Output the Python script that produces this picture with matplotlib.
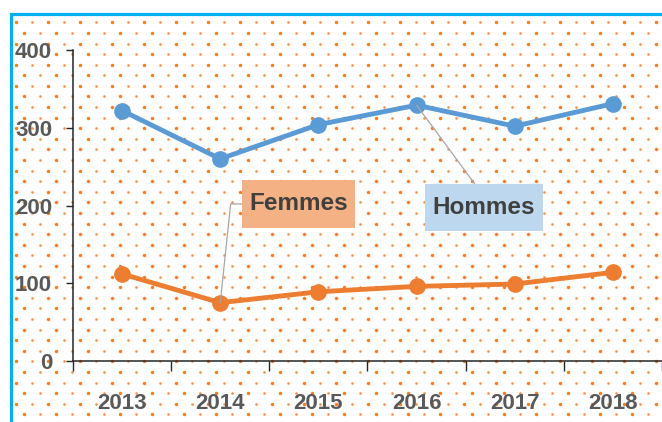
import numpy as np
import matplotlib
matplotlib.use('Agg')
import matplotlib.pyplot as plt
from matplotlib.lines import Line2D
from matplotlib.path import Path

annees = ['2013', '2014', '2015', '2016', '2017', '2018']
hommes = [322, 260, 304, 329, 302, 331]
femmes = [112, 75, 89, 96, 99, 114]
yticks = [0, 100, 200, 300, 400]

W, H = 662, 422
police = ['Liberation Sans', 'DejaVu Sans']
gris = '#595959'


def boite(padx, pady):
    # rectangle avec marges horizontale et verticale differentes
    def f(x0, y0, width, height, mutation_size):
        px, py = padx * mutation_size, pady * mutation_size
        x1, y1 = x0 + width + px, y0 + height + py
        x0, y0 = x0 - px, y0 - py
        return Path([(x0, y0), (x1, y0), (x1, y1), (x0, y1), (x0, y0)], closed=True)
    return f


fig = plt.figure(figsize=(W / 100, H / 100), dpi=100)

# fond : cadre bleu + motif de points orange
bg = fig.add_axes([0, 0, 1, 1], zorder=0)
bg.set_xlim(0, W)
bg.set_ylim(H, 0)
bg.axis('off')
for k, y in enumerate(np.arange(22.3, H, 10.6)):
    x0 = 0 if k % 2 == 0 else 8
    xs = np.arange(x0, W, 16.0)
    xs = xs[xs > 13]
    big = (np.round((xs - x0) / 16) % 2 == 1)
    bg.scatter(xs[big], np.full(big.sum(), y), s=6, color='#ED7D31', lw=0)
    bg.scatter(xs[~big], np.full((~big).sum(), y), s=3.5, color='#F0904A', lw=0)
bg.add_line(Line2D([10.5, 10.5, W], [H, 13.5, 13.5], color='#00B0F0', lw=2.3,
                   solid_joinstyle='miter'))

ax = fig.add_axes([73 / W, 1 - 361 / H, 1 - 73 / W, (361 - 50) / H], zorder=1)
ax.patch.set_alpha(0)
x = np.arange(len(annees))
ax.plot(x, hommes, color='#5B9BD5', lw=3.5, marker='o', ms=11, zorder=3)
ax.plot(x, femmes, color='#ED7D31', lw=3.5, marker='o', ms=11, zorder=3)

ax.set_xlim(-0.5, len(annees) - 0.5)
ax.set_ylim(0, 400)
ax.set_yticks(yticks)
ax.set_yticklabels([str(v) for v in yticks], family=police, fontsize=16,
                   fontweight='bold', color=gris)
ax.set_xticks(x)
ax.set_xticklabels(annees, family=police, fontsize=16, fontweight='bold', color=gris)
ax.set_xticks(np.arange(-0.5, len(annees)), minor=True)
ax.tick_params(axis='x', which='major', length=0, pad=23)
ax.tick_params(axis='x', which='minor', length=7, width=1, color='#262626', direction='out')
ax.tick_params(axis='y', length=5, width=1, color='#262626', pad=10)
for s in ['top', 'right']:
    ax.spines[s].set_visible(False)
for s in ['left', 'bottom']:
    ax.spines[s].set_color('#262626')
    ax.spines[s].set_linewidth(1.1)

ax.annotate('Femmes', xy=(1, femmes[1]), xytext=(1.797, 202), ha='center', va='center',
            family=police, fontsize=17.5, fontweight='bold', color='#404040',
            bbox=dict(boxstyle=boite(0.3, 0.5), fc='#F4B183', ec='none'),
            arrowprops=dict(arrowstyle='-', color='#A6A6A6', lw=0.9, relpos=(0, 0.5),
                            shrinkA=0, shrinkB=0,
                            connectionstyle='angle,angleA=180,angleB=84,rad=0'),
            zorder=4)
ax.annotate('Hommes', xy=(3, hommes[3]), xytext=(3.686, 197), ha='center', va='center',
            family=police, fontsize=17.5, fontweight='bold', color='#404040',
            bbox=dict(boxstyle=boite(0.33, 0.5), fc='#BDD7EE', ec='none'),
            arrowprops=dict(arrowstyle='-', color='#A6A6A6', lw=0.9, relpos=(0.5, 1),
                            shrinkA=0, shrinkB=0),
            zorder=4)

fig.savefig('out.png', dpi=100)
